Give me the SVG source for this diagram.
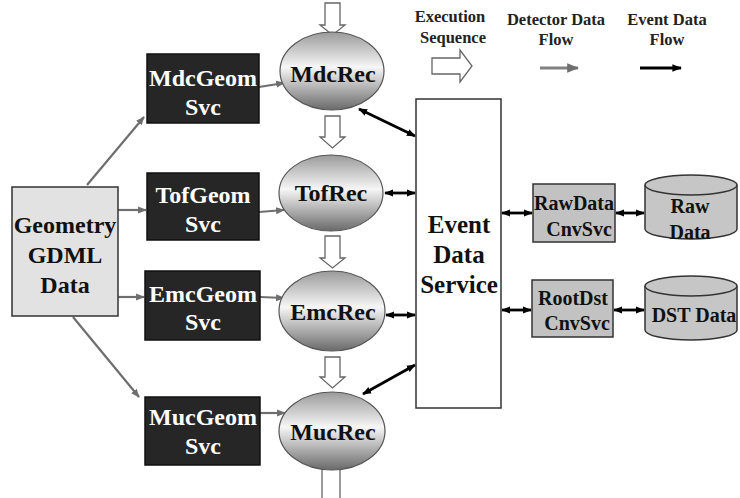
<svg xmlns="http://www.w3.org/2000/svg" width="740" height="498" viewBox="0 0 740 498">
<defs>
<linearGradient id="ball" x1="0" y1="0" x2="0" y2="1">
<stop offset="0" stop-color="#9a9a9a"/>
<stop offset="0.45" stop-color="#f6f6f6"/>
<stop offset="1" stop-color="#6a6a6a"/>
</linearGradient>
<marker id="ga" viewBox="0 0 10 10" refX="9" refY="5" markerWidth="4" markerHeight="4" orient="auto-start-reverse" markerUnits="strokeWidth">
<path d="M0,1 L10,5 L0,9 z" fill="#6e6e6e"/>
</marker>
<marker id="ba" viewBox="0 0 10 10" refX="9" refY="5" markerWidth="3.2" markerHeight="3.2" orient="auto-start-reverse" markerUnits="strokeWidth">
<path d="M0,1 L10,5 L0,9 z" fill="#000"/>
</marker>
</defs>
<style>
text{font-family:"Liberation Serif","Times New Roman",serif;font-weight:bold;text-anchor:middle}
.geo{fill:#262626;stroke:#111;stroke-width:1.5}
.wt{fill:#fff;font-size:24px}
.bt{fill:#111;font-size:24px}
.rec{fill:url(#ball);stroke:#555;stroke-width:1.2}
.cnv{fill:#c2c2c2;stroke:#333;stroke-width:1.5}
.cyl{fill:#c6c6c6;stroke:#333;stroke-width:1.5}
.st{font-size:20px;fill:#111}
.lg{font-size:16.5px;fill:#222}
.hol{fill:#fff;stroke:#666;stroke-width:1.3}
.g{stroke:#6e6e6e;stroke-width:2.2;fill:none;marker-end:url(#ga)}
.b{stroke:#000;stroke-width:2.8;fill:none;marker-end:url(#ba);marker-start:url(#ba)}
</style>
<rect width="740" height="498" fill="#fff"/>

<g id="exec-arrows">
<path class="hol" d="M325,3 L340,3 L340,25 L345,25 L332.5,35 L320,25 L325,25 Z"/>
<path class="hol" d="M325,116 L340,116 L340,137 L345,137 L332.5,148 L320,137 L325,137 Z"/>
<path class="hol" d="M325,236 L340,236 L340,258 L345,258 L332.5,268 L320,258 L325,258 Z"/>
<path class="hol" d="M325,357 L340,357 L340,377 L345,377 L332.5,388 L320,377 L325,377 Z"/>
<path fill="none" stroke="#666" stroke-width="1.3" d="M322,470 L322,498 M340,470 L340,498"/>
</g>

<g id="connectors">
<line class="g" x1="87" y1="185" x2="144" y2="117"/>
<line class="g" x1="118" y1="210" x2="146" y2="210"/>
<line class="g" x1="118" y1="297" x2="144" y2="297"/>
<line class="g" x1="73" y1="317" x2="139" y2="397"/>
<line class="g" x1="259" y1="87" x2="284" y2="83"/>
<line class="g" x1="259" y1="212" x2="284" y2="210"/>
<line class="g" x1="260" y1="297" x2="284" y2="298"/>
<line class="g" x1="260" y1="413" x2="285" y2="413"/>
<line class="b" x1="359" y1="109" x2="415" y2="136"/>
<line class="b" x1="385" y1="193" x2="415" y2="193"/>
<line class="b" x1="386" y1="315" x2="415" y2="315"/>
<line class="b" x1="415" y1="365" x2="363" y2="394"/>
<line class="b" x1="502" y1="213" x2="532" y2="213"/>
<line class="b" x1="616" y1="213" x2="644" y2="213"/>
<line class="b" x1="502" y1="310" x2="531" y2="310"/>
<line class="b" x1="614" y1="310" x2="644" y2="310"/>
</g>

<g id="geometry">
<rect x="12" y="187" width="106" height="129" fill="#e2e2e2" stroke="#333" stroke-width="1.5"/>
<text class="bt" x="65" y="233">Geometry</text>
<text class="bt" x="65" y="263">GDML</text>
<text class="bt" x="65" y="293">Data</text>
</g>

<g id="mdcgeom">
<rect class="geo" x="147" y="54" width="112" height="69"/>
<text class="wt" x="203" y="86">MdcGeom</text>
<text class="wt" x="203" y="115">Svc</text>
</g>
<g id="tofgeom">
<rect class="geo" x="147" y="173" width="112" height="67"/>
<text class="wt" x="203" y="203">TofGeom</text>
<text class="wt" x="203" y="232">Svc</text>
</g>
<g id="emcgeom">
<rect class="geo" x="145" y="271" width="115" height="69"/>
<text class="wt" x="203" y="302">EmcGeom</text>
<text class="wt" x="203" y="330">Svc</text>
</g>
<g id="mucgeom">
<rect class="geo" x="145" y="397" width="115" height="68"/>
<text class="wt" x="203" y="425">MucGeom</text>
<text class="wt" x="203" y="454">Svc</text>
</g>

<g id="mdcrec">
<ellipse class="rec" cx="332" cy="71" rx="52" ry="39"/>
<text class="bt" x="333" y="82">MdcRec</text>
</g>
<g id="tofrec">
<ellipse class="rec" cx="331" cy="193" rx="52" ry="38"/>
<text class="bt" x="331" y="201">TofRec</text>
</g>
<g id="emcrec">
<ellipse class="rec" cx="332" cy="311" rx="53" ry="40"/>
<text class="bt" x="333" y="320">EmcRec</text>
</g>
<g id="mucrec">
<ellipse class="rec" cx="332" cy="431" rx="53" ry="39"/>
<text class="bt" x="333" y="440">MucRec</text>
</g>

<g id="eventdataservice">
<rect x="416" y="99" width="85" height="309" fill="#fff" stroke="#333" stroke-width="1.5"/>
<text class="bt" x="459" y="233" style="font-size:25px">Event</text>
<text class="bt" x="459" y="263" style="font-size:25px">Data</text>
<text class="bt" x="459" y="293" style="font-size:25px">Service</text>
</g>

<g id="rawdatacnvsvc">
<rect class="cnv" x="533" y="184" width="82" height="58"/>
<text class="st" x="574" y="210">RawData</text>
<text class="st" x="579" y="236">CnvSvc</text>
</g>
<g id="rootdstcnvsvc">
<rect class="cnv" x="532" y="280" width="81" height="57"/>
<text class="st" x="573" y="305">RootDst</text>
<text class="st" x="577" y="330">CnvSvc</text>
</g>

<g id="rawdata">
<path class="cyl" d="M645,185 L645,229 A46,10 0 0 0 737,229 L737,185"/>
<ellipse class="cyl" cx="691" cy="185" rx="46" ry="10"/>
<text class="st" x="690" y="213">Raw</text>
<text class="st" x="690" y="239">Data</text>
</g>
<g id="dstdata">
<path class="cyl" d="M645,286 L645,330 A46,10 0 0 0 737,330 L737,286"/>
<ellipse class="cyl" cx="691" cy="286" rx="46" ry="10"/>
<text class="st" x="694" y="322">DST Data</text>
</g>

<g id="legend">
<text class="lg" x="450" y="22">Execution</text>
<text class="lg" x="453" y="43">Sequence</text>
<path class="hol" d="M432,58 L460,58 L460,50 L472,66 L460,82 L460,74 L432,74 Z"/>
<text class="lg" x="556" y="25">Detector Data</text>
<text class="lg" x="556" y="45">Flow</text>
<line x1="540" y1="68" x2="578" y2="68" stroke="#808080" stroke-width="3" marker-end="url(#ga)"/>
<text class="lg" x="667" y="25">Event Data</text>
<text class="lg" x="667" y="45">Flow</text>
<line x1="640" y1="68" x2="681" y2="68" stroke="#000" stroke-width="3" marker-end="url(#ba)"/>
</g>
</svg>
